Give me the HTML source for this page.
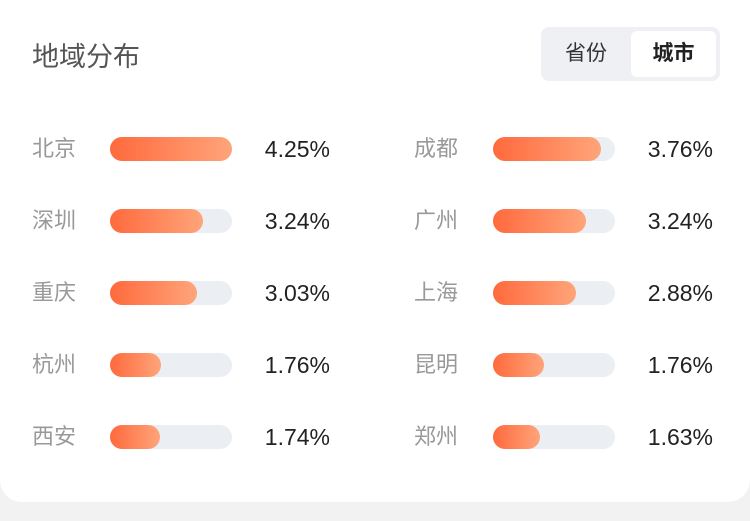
<!DOCTYPE html>
<html><head><meta charset="utf-8"><style>
body{margin:0;width:750px;height:521px;background:#f2f2f2;font-family:"Liberation Sans","Noto Sans CJK SC",sans-serif;overflow:hidden;position:relative}
#card{position:absolute;left:0;top:0;width:750px;height:502px;background:#fff;border-radius:0 0 22px 22px}
.t{position:absolute;white-space:nowrap}
</style></head><body>
<div id="card">
<div class="t" style="left:32px;top:35px;font-size:27px;color:#555">地域分布</div>
<div style="position:absolute;left:541px;top:27px;width:179px;height:54px;background:#eef0f3;border-radius:8px"></div>
<div class="t" style="left:541px;top:27px;width:90px;height:54px;line-height:54px;text-align:center;font-size:21px;color:#333">省份</div>
<div class="t" style="left:631px;top:31px;width:85px;height:46px;line-height:46px;text-align:center;font-size:21px;color:#222;background:#fff;border-radius:6px;font-weight:bold">城市</div>
<div id="rows"></div>
</div>
<script>
const cities=["北京","成都","深圳","广州","重庆","上海","杭州","昆明","西安","郑州"];
const values=[4.25,3.76,3.24,3.24,3.03,2.88,1.76,1.76,1.74,1.63];
const labels=["4.25%","3.76%","3.24%","3.24%","3.03%","2.88%","1.76%","1.76%","1.74%","1.63%"];
const maxV=Math.max(...values);
const rows=document.getElementById('rows');
const trackW=122;
function xScale(v){return v/maxV*trackW;}
cities.forEach((c,i)=>{
  const col=i%2,row=Math.floor(i/2);
  const cy=149+row*72;
  const lx=col?414:32, bx=col?493:110, vr=col?713:330;
  const l=document.createElement('div');
  
  
  l.className='t';l.textContent=c;
  l.style.cssText=`left:${lx}px;top:${cy-14}px;font-size:22px;line-height:28px;color:#999`;
  rows.appendChild(l);
  const tr=document.createElement('div');
  
  
  tr.style.cssText=`position:absolute;left:${bx}px;top:${cy-12}px;width:${trackW}px;height:24px;border-radius:12px;background:#ebeef3`;
  rows.appendChild(tr);
  const b=document.createElement('div');
  
  
  b.style.cssText=`position:absolute;left:${bx}px;top:${cy-12}px;width:${xScale(values[i])}px;height:24px;border-radius:12px;background:linear-gradient(90deg,#ff6a3d,#ffa47a)`;
  rows.appendChild(b);
  const v=document.createElement('div');
  
  
  v.className='t';v.textContent=labels[i];
  v.style.cssText=`left:${vr-120}px;width:120px;text-align:right;top:${cy-14}px;font-size:23px;line-height:28px;color:#222`;
  rows.appendChild(v);
});
</script>
</body></html>
